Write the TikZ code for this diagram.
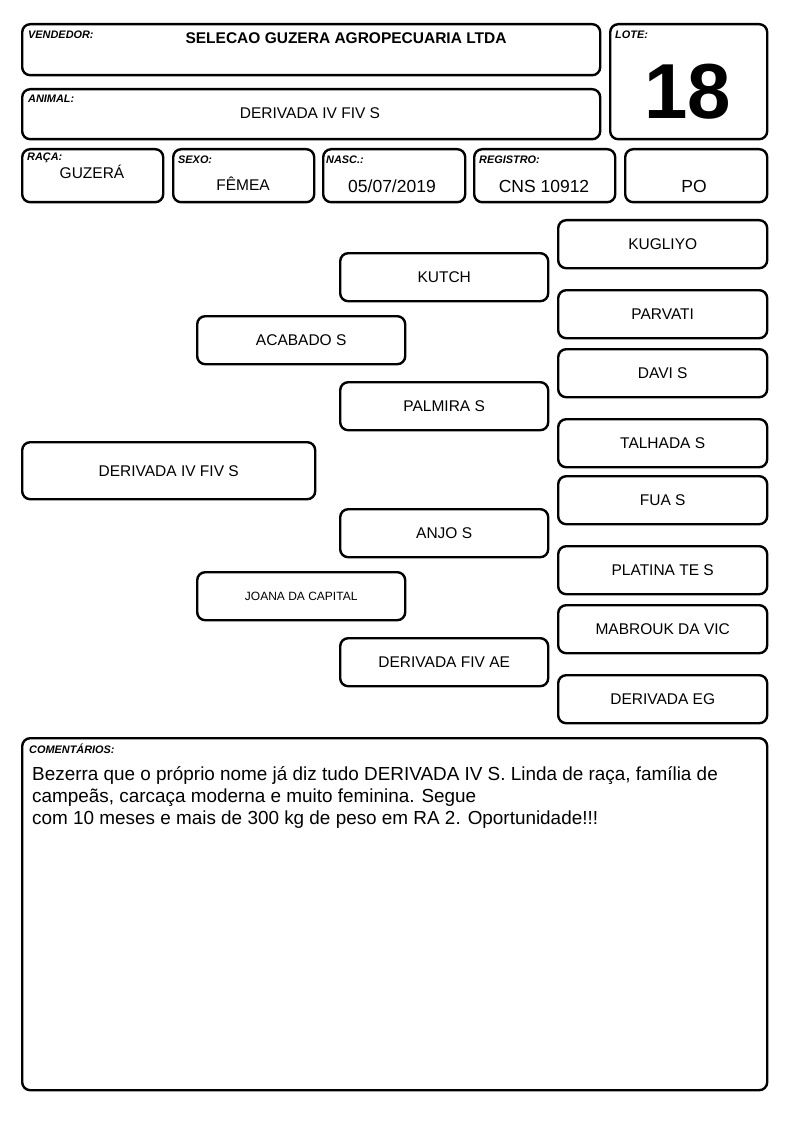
\documentclass[tikz,border=0pt]{standalone}
\usepackage{fontspec}
\setmainfont{Liberation Sans}
\begin{document}
\begin{tikzpicture}[x=1pt,y=-1pt,
  box/.style={draw=black,line width=2.4pt,rounded corners=8pt,inner sep=0pt,anchor=north west,fill=white},
  lbl/.style={anchor=west,inner sep=0pt,font=\fontsize{10.9}{12}\selectfont\bfseries\itshape},
  val/.style={inner sep=0pt,font=\fontsize{15.5}{18}\selectfont},
  bigval/.style={inner sep=0pt,font=\fontsize{17.5}{20}\selectfont},
  ped/.style={box,font=\fontsize{15.5}{18}\selectfont}]
\useasboundingbox (0,0) rectangle (794,1123);
% header
\node[box,minimum width=578,minimum height=51] (vend) at (21,23) {};
\node[lbl] (vendl) at (28,35) {VENDEDOR:};
\node[inner sep=0pt,font=\fontsize{15.5}{18}\selectfont\bfseries] (vendv) at (346,38) {SELECAO GUZERA AGROPECUARIA LTDA};
\node[box,minimum width=578,minimum height=50] (anim) at (21,88) {};
\node[lbl] (animl) at (28,99) {ANIMAL:};
\node[val] (animv) at (310,113) {DERIVADA IV FIV S};
\node[box,minimum width=157,minimum height=115] (lote) at (609,23) {};
\node[lbl] (lotel) at (615,35) {LOTE:};
\node[inner sep=0pt,font=\fontsize{78}{90}\selectfont\bfseries] (lotev) at (688,92) {18};
% info row
\node[box,minimum width=141,minimum height=53] (raca) at (21,148) {};
\node[lbl] (racal) at (27,158) {RAÇA:};
\node[val] (racav) at (92,172) {GUZERÁ};
\node[box,minimum width=141,minimum height=53] (sexo) at (172,148) {};
\node[lbl] (sexol) at (178,160) {SEXO:};
\node[val] (sexov) at (243,184) {FÊMEA};
\node[box,minimum width=142,minimum height=53] (nasc) at (322,148) {};
\node[lbl] (nascl) at (326,160) {NASC.:};
\node[bigval] (nascv) at (392,186) {05/07/2019};
\node[box,minimum width=141,minimum height=53] (reg) at (473,148) {};
\node[lbl] (regl) at (479,160) {REGISTRO:};
\node[bigval] (regv) at (544,186) {CNS 10912};
\node[box,minimum width=142,minimum height=53] (po) at (624,148) {};
\node[bigval] (pov) at (694,186) {PO};
% pedigree
\node[ped,minimum width=293,minimum height=57] (p0) at (21,441) {DERIVADA IV FIV S};
\node[ped,minimum width=208,minimum height=48] (p1) at (196,315) {ACABADO S};
\node[box,minimum width=208,minimum height=48,font=\fontsize{12}{14}\selectfont] (p2) at (196,571) {JOANA DA CAPITAL};
\node[ped,minimum width=208,minimum height=48] (p11) at (339,252) {KUTCH};
\node[ped,minimum width=208,minimum height=48] (p12) at (339,381) {PALMIRA S};
\node[ped,minimum width=208,minimum height=48] (p21) at (339,508) {ANJO S};
\node[ped,minimum width=208,minimum height=48] (p22) at (339,637) {DERIVADA FIV AE};
\node[ped,minimum width=209,minimum height=48] (p111) at (557,219) {KUGLIYO};
\node[ped,minimum width=209,minimum height=48] (p112) at (557,289) {PARVATI};
\node[ped,minimum width=209,minimum height=48] (p121) at (557,348) {DAVI S};
\node[ped,minimum width=209,minimum height=48] (p122) at (557,418) {TALHADA S};
\node[ped,minimum width=209,minimum height=48] (p211) at (557,475) {FUA S};
\node[ped,minimum width=209,minimum height=48] (p212) at (557,545) {PLATINA TE S};
\node[ped,minimum width=209,minimum height=48] (p221) at (557,604) {MABROUK DA VIC};
\node[ped,minimum width=209,minimum height=48] (p222) at (557,674) {DERIVADA EG};
% comments
\node[box,minimum width=745,minimum height=352] (com) at (21,737) {};
\node[lbl] (coml) at (29,749) {COMENTÁRIOS:};
\node[anchor=north west,inner sep=0pt,align=left,font=\fontsize{18.9}{22}\selectfont] (comv) at (32,766) {Bezerra que o próprio nome já diz tudo DERIVADA IV S. Linda de raça, família de\\campeãs, carcaça moderna e muito feminina. Segue\\com 10 meses e mais de 300 kg de peso em RA 2. Oportunidade!!!};
\end{tikzpicture}
\end{document}
